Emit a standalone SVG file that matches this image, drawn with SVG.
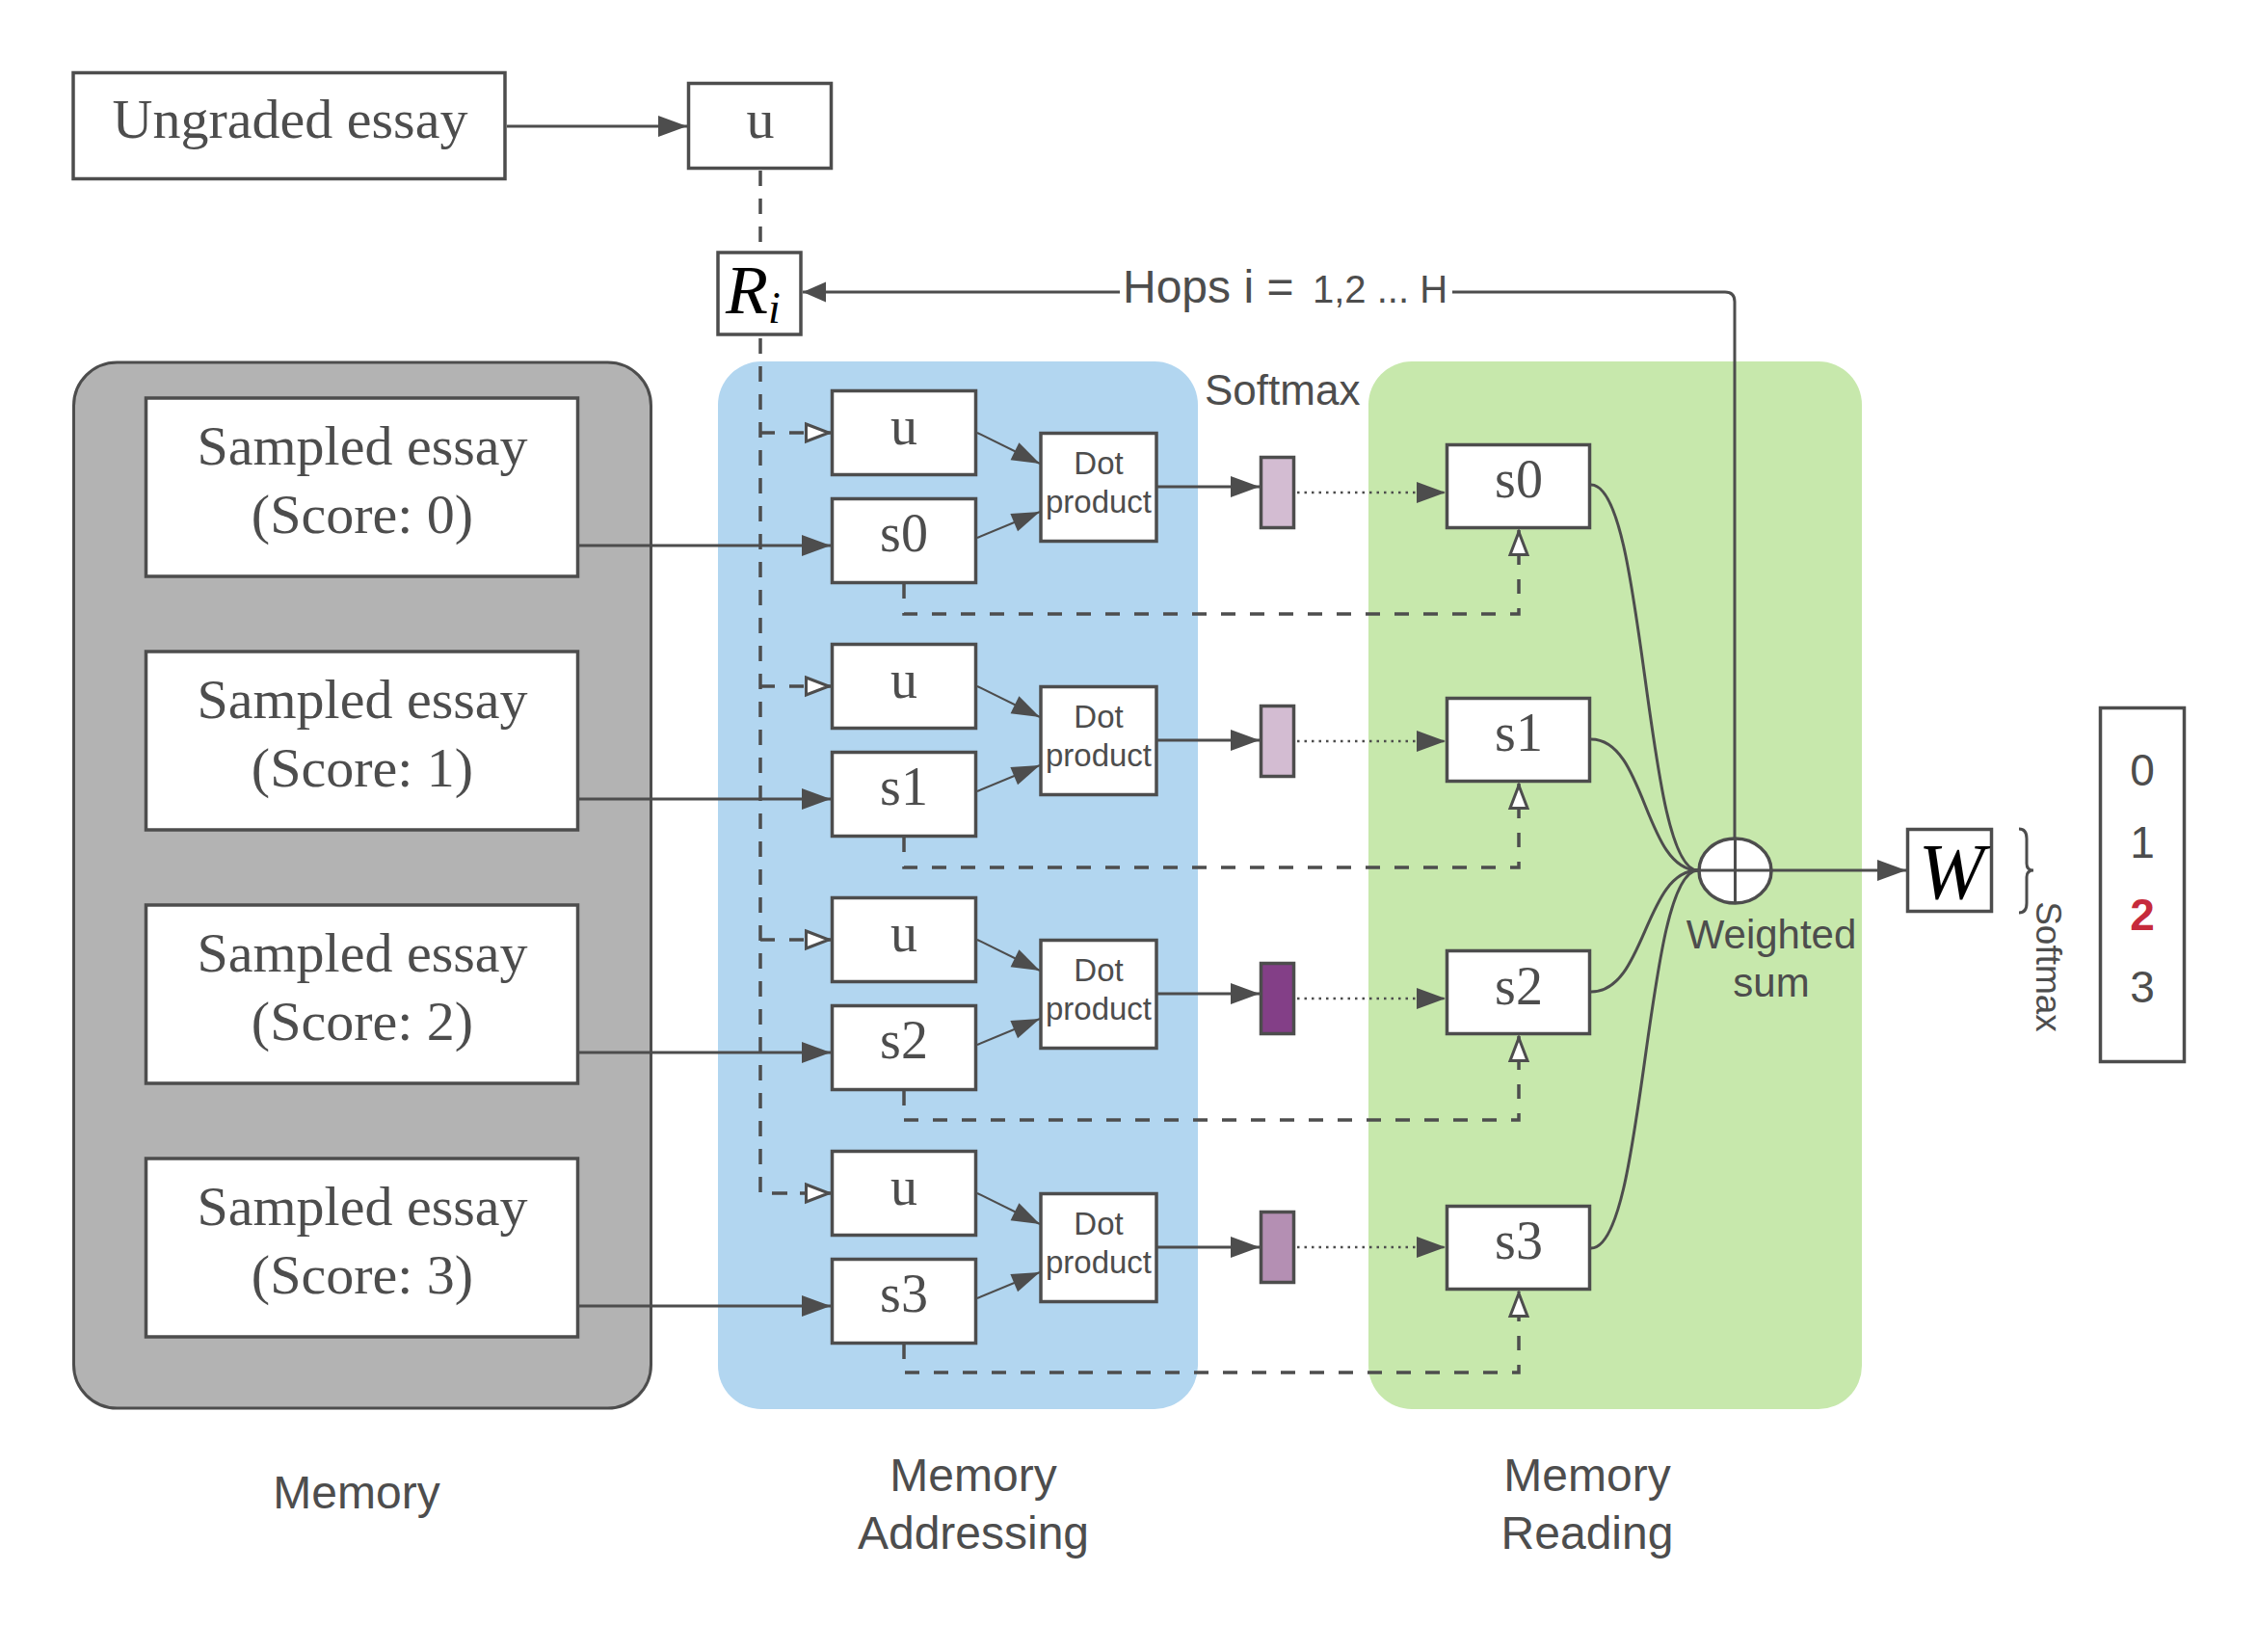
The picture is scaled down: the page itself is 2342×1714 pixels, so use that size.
<svg xmlns="http://www.w3.org/2000/svg" width="2342" height="1714" viewBox="0 0 2342 1714">
<style>
.box{fill:#fff;stroke:#4d4d4d;stroke-width:3.5}
.serif{font-family:"Liberation Serif","Times New Roman",serif;fill:#4d4d4d}
.sans{font-family:"Liberation Sans",Arial,sans-serif;fill:#4d4d4d}
.ln{fill:none;stroke:#4d4d4d;stroke-width:3}
.thin{fill:none;stroke:#4d4d4d;stroke-width:2}
.dash{fill:none;stroke:#4d4d4d;stroke-width:3.5;stroke-dasharray:15 15}
.vdash{fill:none;stroke:#4d4d4d;stroke-width:3.5;stroke-dasharray:16 13}
.dot{fill:none;stroke:#4d4d4d;stroke-width:2.5;stroke-dasharray:2.5 5}
.bar{stroke:#4d4d4d;stroke-width:3.5}
</style>
<defs>
<marker id="ah" markerUnits="userSpaceOnUse" markerWidth="32" markerHeight="24" refX="30" refY="11" orient="auto" overflow="visible"><path d="M0,0 L30,11 L0,22 z" fill="#4d4d4d" stroke="none"/></marker>
<marker id="ahs" markerUnits="userSpaceOnUse" markerWidth="30" markerHeight="20" refX="29" refY="10" orient="auto" overflow="visible"><path d="M0,0 L29,10 L0,20 z" fill="#4d4d4d" stroke="none"/></marker>
<marker id="ahh" markerUnits="userSpaceOnUse" markerWidth="26" markerHeight="22" refX="24" refY="10.5" orient="auto" overflow="visible"><path d="M0,0 L24,10.5 L0,21 z" fill="#4d4d4d" stroke="none"/></marker>
<marker id="hol" markerUnits="userSpaceOnUse" markerWidth="30" markerHeight="24" refX="27" refY="10" orient="auto" overflow="visible"><path d="M1.5,1 L25,10 L1.5,19 z" fill="#fff" stroke="#4d4d4d" stroke-width="3" stroke-dasharray="none"/></marker>
</defs>

<g id="panels">
<rect id="memory-panel" x="76.5" y="376" width="599" height="1085" rx="45" fill="#b3b3b3" stroke="#4d4d4d" stroke-width="3"/>
<rect id="addressing-panel" x="745" y="375" width="498" height="1087" rx="45" fill="#b2d6f0"/>
<rect id="reading-panel" x="1420" y="375" width="512" height="1087" rx="45" fill="#c7e8ac"/>
</g>

<g id="connectors">
<path class="ln" d="M526,131 H713" marker-end="url(#ah)"/>
<path class="vdash" d="M789,177 V1238 H862" marker-end="url(#hol)"/>
<path class="dash" d="M789,449 H862" marker-end="url(#hol)"/>
<path class="dash" d="M789,712 H862" marker-end="url(#hol)"/>
<path class="dash" d="M789,975 H862" marker-end="url(#hol)"/>
<path class="ln" d="M1162,303 H833" marker-end="url(#ahh)"/>
<path class="ln" d="M1507,303 H1790 Q1800,303 1800,313 V938"/>
<path class="ln" d="M1762,903 H1978" marker-end="url(#ah)"/>
<path class="ln" stroke-width="3.2" d="M601,566 H862" marker-end="url(#ah)"/>
<path class="ln" stroke-width="3.2" d="M601,829 H862" marker-end="url(#ah)"/>
<path class="ln" stroke-width="3.2" d="M601,1092 H862" marker-end="url(#ah)"/>
<path class="ln" stroke-width="3.2" d="M601,1355 H862" marker-end="url(#ah)"/>
<path class="thin" d="M1014,449 L1079,481" marker-end="url(#ahs)"/>
<path class="thin" d="M1014,558 L1079,531" marker-end="url(#ahs)"/>
<path class="thin" d="M1014,712 L1079,744" marker-end="url(#ahs)"/>
<path class="thin" d="M1014,821 L1079,794" marker-end="url(#ahs)"/>
<path class="thin" d="M1014,975 L1079,1007" marker-end="url(#ahs)"/>
<path class="thin" d="M1014,1084 L1079,1057" marker-end="url(#ahs)"/>
<path class="thin" d="M1014,1238 L1079,1270" marker-end="url(#ahs)"/>
<path class="thin" d="M1014,1347 L1079,1320" marker-end="url(#ahs)"/>
<path class="ln" stroke-width="3.5" d="M1201,505 H1307" marker-end="url(#ah)"/>
<path class="ln" stroke-width="3.5" d="M1201,768 H1307" marker-end="url(#ah)"/>
<path class="ln" stroke-width="3.5" d="M1201,1031 H1307" marker-end="url(#ah)"/>
<path class="ln" stroke-width="3.5" d="M1201,1294 H1307" marker-end="url(#ah)"/>
<path class="dot" d="M1346,511 H1500" marker-end="url(#ah)"/>
<path class="dot" d="M1346,769 H1500" marker-end="url(#ah)"/>
<path class="dot" d="M1346,1036 H1500" marker-end="url(#ah)"/>
<path class="dot" d="M1346,1294 H1500" marker-end="url(#ah)"/>
<path class="dash" d="M938,606 V637 H1576 V550" marker-end="url(#hol)"/>
<path class="dash" d="M938,869 V900 H1576 V813" marker-end="url(#hol)"/>
<path class="dash" d="M938,1132 V1162 H1576 V1075" marker-end="url(#hol)"/>
<path class="dash" d="M938,1395 V1424 H1576 V1340" marker-end="url(#hol)"/>
<path class="ln" d="M1651,503 C1708,503 1706,903 1762,903"/>
<path class="ln" d="M1651,767 C1708,767 1706,903 1762,903"/>
<path class="ln" d="M1651,1029 C1708,1029 1706,903 1762,903"/>
<path class="ln" d="M1651,1295 C1708,1295 1706,903 1762,903"/>
<path class="ln" stroke-width="2.5" d="M2095,860 Q2103,860 2103,870 L2103,896 Q2103,903 2110,903 Q2103,903 2103,910 L2103,937 Q2103,947 2095,947"/>
</g>

<g id="ungraded-essay">
<rect class="box" x="76" y="75.5" width="448" height="110"/>
<text class="serif" x="301" y="143" font-size="58" text-anchor="middle">Ungraded essay</text>
</g>
<g id="u-top">
<rect class="box" x="714.5" y="86.5" width="148" height="88"/>
<text class="serif" x="789" y="143" font-size="58" text-anchor="middle">u</text>
</g>
<g id="r-i">
<rect class="box" x="745" y="262" width="86" height="85"/>
<text font-family="Liberation Serif,Times New Roman,serif" font-style="italic" fill="#000" x="753" y="325" font-size="72">R<tspan font-size="46" dy="10">i</tspan></text>
</g>
<text id="hops-label" class="sans" x="1165" y="314" font-size="48">Hops i =<tspan x="1362" font-size="40">1,2 ... H</tspan></text>

<g id="sampled-0"><rect class="box" x="151.5" y="413" width="448" height="185"/><text class="serif" x="376" y="482" font-size="58" text-anchor="middle">Sampled essay</text><text class="serif" x="376" y="553" font-size="58" text-anchor="middle">(Score: 0)</text></g>
<g id="sampled-1"><rect class="box" x="151.5" y="676" width="448" height="185"/><text class="serif" x="376" y="745" font-size="58" text-anchor="middle">Sampled essay</text><text class="serif" x="376" y="816" font-size="58" text-anchor="middle">(Score: 1)</text></g>
<g id="sampled-2"><rect class="box" x="151.5" y="939" width="448" height="185"/><text class="serif" x="376" y="1008" font-size="58" text-anchor="middle">Sampled essay</text><text class="serif" x="376" y="1079" font-size="58" text-anchor="middle">(Score: 2)</text></g>
<g id="sampled-3"><rect class="box" x="151.5" y="1202" width="448" height="185"/><text class="serif" x="376" y="1271" font-size="58" text-anchor="middle">Sampled essay</text><text class="serif" x="376" y="1342" font-size="58" text-anchor="middle">(Score: 3)</text></g>

<g id="u-0"><rect class="box" x="863.5" y="405.5" width="149" height="87"/><text class="serif" x="938" y="461" font-size="56" text-anchor="middle">u</text></g>
<g id="s-0"><rect class="box" x="863.5" y="517.5" width="149" height="87"/><text class="serif" x="938" y="572" font-size="56" text-anchor="middle">s0</text></g>
<g id="u-1"><rect class="box" x="863.5" y="668.5" width="149" height="87"/><text class="serif" x="938" y="724" font-size="56" text-anchor="middle">u</text></g>
<g id="s-1"><rect class="box" x="863.5" y="780.5" width="149" height="87"/><text class="serif" x="938" y="835" font-size="56" text-anchor="middle">s1</text></g>
<g id="u-2"><rect class="box" x="863.5" y="931.5" width="149" height="87"/><text class="serif" x="938" y="987" font-size="56" text-anchor="middle">u</text></g>
<g id="s-2"><rect class="box" x="863.5" y="1043.5" width="149" height="87"/><text class="serif" x="938" y="1098" font-size="56" text-anchor="middle">s2</text></g>
<g id="u-3"><rect class="box" x="863.5" y="1194.5" width="149" height="87"/><text class="serif" x="938" y="1250" font-size="56" text-anchor="middle">u</text></g>
<g id="s-3"><rect class="box" x="863.5" y="1306.5" width="149" height="87"/><text class="serif" x="938" y="1361" font-size="56" text-anchor="middle">s3</text></g>

<g id="dot-0"><rect class="box" x="1080" y="449.5" width="120" height="112"/><text class="sans" x="1140" y="492" font-size="33" text-anchor="middle">Dot</text><text class="sans" x="1140" y="532" font-size="33" text-anchor="middle">product</text></g>
<g id="dot-1"><rect class="box" x="1080" y="712.5" width="120" height="112"/><text class="sans" x="1140" y="755" font-size="33" text-anchor="middle">Dot</text><text class="sans" x="1140" y="795" font-size="33" text-anchor="middle">product</text></g>
<g id="dot-2"><rect class="box" x="1080" y="975.5" width="120" height="112"/><text class="sans" x="1140" y="1018" font-size="33" text-anchor="middle">Dot</text><text class="sans" x="1140" y="1058" font-size="33" text-anchor="middle">product</text></g>
<g id="dot-3"><rect class="box" x="1080" y="1238.5" width="120" height="112"/><text class="sans" x="1140" y="1281" font-size="33" text-anchor="middle">Dot</text><text class="sans" x="1140" y="1321" font-size="33" text-anchor="middle">product</text></g>

<g id="bar-0"><rect class="bar" x="1308.5" y="474.5" width="34" height="73" fill="#d3bcd2"/></g>
<g id="bar-1"><rect class="bar" x="1308.5" y="732.5" width="34" height="73" fill="#d3bcd2"/></g>
<g id="bar-2"><rect class="bar" x="1308.5" y="999.5" width="34" height="73" fill="#833f87"/></g>
<g id="bar-3"><rect class="bar" x="1308.5" y="1257.5" width="34" height="73" fill="#b48fb3"/></g>
<text id="softmax-top" class="sans" x="1250" y="420" font-size="44">Softmax</text>

<g id="read-s0"><rect class="box" x="1501.5" y="461.5" width="148" height="86"/><text class="serif" x="1576" y="516" font-size="56" text-anchor="middle">s0</text></g>
<g id="read-s1"><rect class="box" x="1501.5" y="724.5" width="148" height="86"/><text class="serif" x="1576" y="779" font-size="56" text-anchor="middle">s1</text></g>
<g id="read-s2"><rect class="box" x="1501.5" y="986.5" width="148" height="86"/><text class="serif" x="1576" y="1042" font-size="56" text-anchor="middle">s2</text></g>
<g id="read-s3"><rect class="box" x="1501.5" y="1251.5" width="148" height="86"/><text class="serif" x="1576" y="1306" font-size="56" text-anchor="middle">s3</text></g>

<g id="weighted-sum">
<ellipse cx="1800.5" cy="903.5" rx="37.5" ry="33.5" fill="#fff" stroke="#4d4d4d" stroke-width="3.5"/>
<path class="ln" d="M1763,903 H1838 M1800.5,870 V937"/>
<text class="sans" x="1838" y="984" font-size="42" text-anchor="middle">Weighted</text>
<text class="sans" x="1838" y="1034" font-size="42" text-anchor="middle">sum</text>
</g>
<g id="w-box">
<rect class="box" x="1979.5" y="860.5" width="87" height="85"/>
<text font-family="Liberation Serif,Times New Roman,serif" font-style="italic" fill="#000" x="2025" y="932" font-size="82" text-anchor="middle">W</text>
</g>
<text id="softmax-side" class="sans" font-size="37" text-anchor="middle" transform="translate(2113,1003) rotate(90)">Softmax</text>
<g id="output">
<rect class="box" x="2179.5" y="734.5" width="87" height="367"/>
<text class="sans" x="2223" y="815" font-size="46" text-anchor="middle">0</text>
<text class="sans" x="2223" y="890" font-size="46" text-anchor="middle">1</text>
<text class="sans" x="2223" y="965" font-size="46" text-anchor="middle" font-weight="bold" style="fill:#c62b3b">2</text>
<text class="sans" x="2223" y="1040" font-size="46" text-anchor="middle">3</text>
</g>

<g id="labels">
<text class="sans" x="370" y="1565" font-size="48" text-anchor="middle">Memory</text>
<text class="sans" x="1010" y="1547" font-size="48" text-anchor="middle">Memory</text>
<text class="sans" x="1010" y="1607" font-size="48" text-anchor="middle">Addressing</text>
<text class="sans" x="1647" y="1547" font-size="48" text-anchor="middle">Memory</text>
<text class="sans" x="1647" y="1607" font-size="48" text-anchor="middle">Reading</text>
</g>
</svg>
